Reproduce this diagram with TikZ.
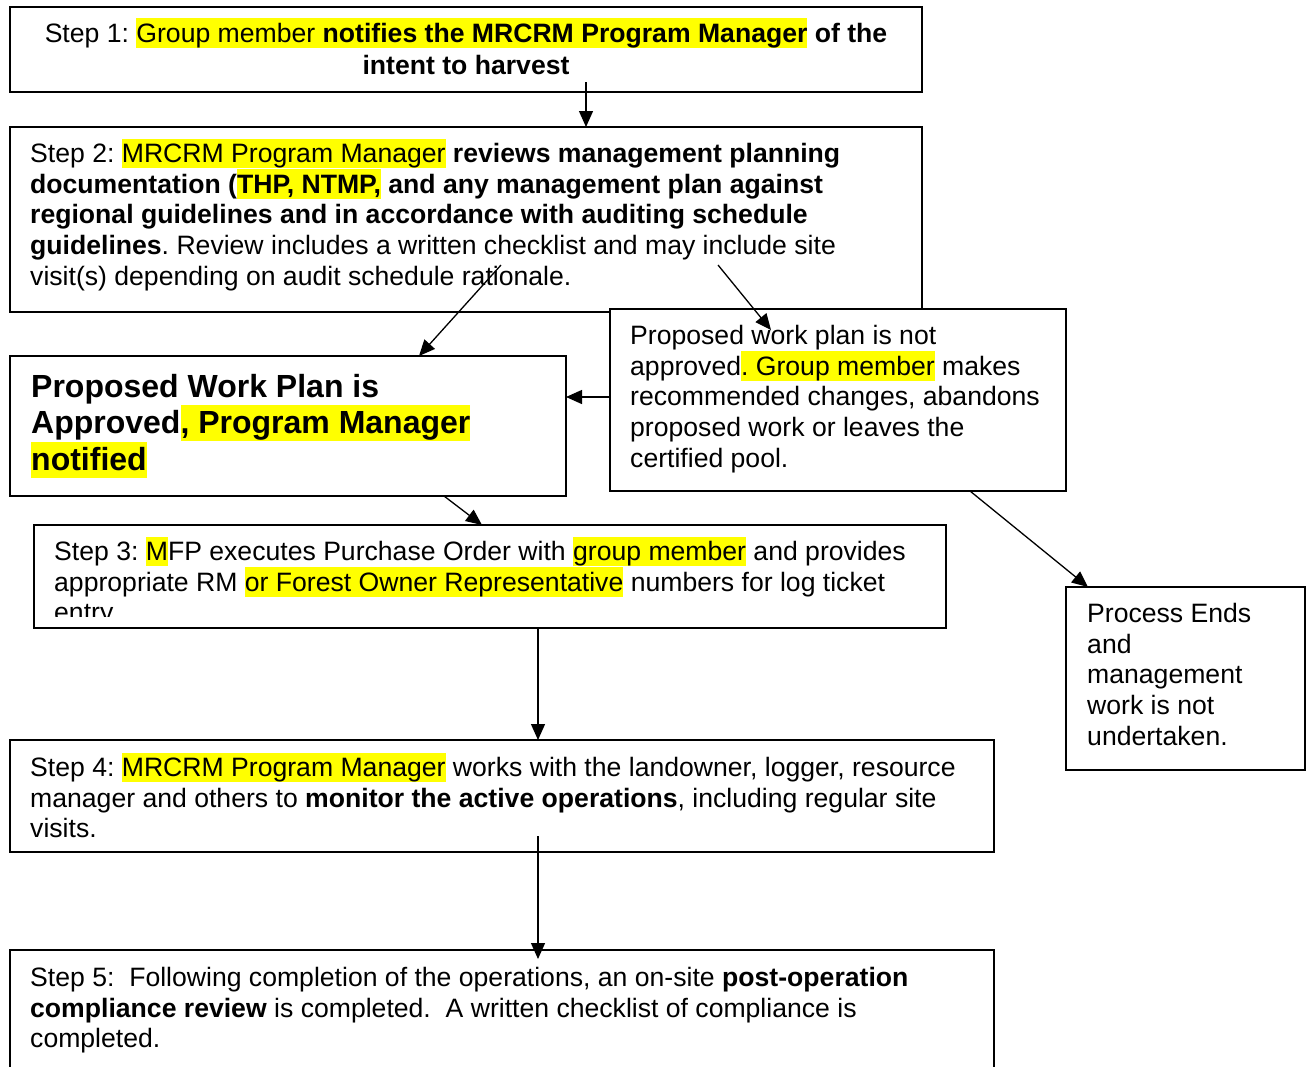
\documentclass[tikz,border=0pt]{standalone}
\usepackage{fontspec}
\setmainfont{Liberation Sans}
\usetikzlibrary{arrows.meta}
\definecolor{hlyellow}{HTML}{FFFF00}
\frenchspacing
% strut with the ascent/descent of the font, used for the highlight bands
\newcommand{\hlstrut}{\rule[-0.212em]{0pt}{1.117em}}
\newcommand{\hlt}[1]{{\setlength{\fboxsep}{0pt}\colorbox{hlyellow}{\hlstrut#1}}}

\tikzset{
  box/.style={draw=black, line width=1.7pt, fill=white, rectangle,
    anchor=north west, inner sep=0pt, outer sep=0pt},
  body/.style={anchor=north west, inner sep=0pt, align=left,
    font=\fontsize{26.6}{30.6}\selectfont},
  bigbody/.style={anchor=north west, inner sep=0pt, align=left,
    font=\fontsize{32}{36.8}\selectfont},
  arr/.style={line width=1.3pt, -{Triangle[length=16pt,width=14pt]}},
}

\begin{document}
\begin{tikzpicture}[x=1pt,y=-1pt]
\clip (0,0) rectangle (1306,1066);

% ---- boxes ----
\node[box, minimum width=912pt, minimum height=85pt]  (s1) at (10,7) {};
\node[box, minimum width=912pt, minimum height=185pt] (s2) at (10,127) {};
\node[box, minimum width=556pt, minimum height=140pt] (ap) at (10,356) {};
\node[box, minimum width=456pt, minimum height=182pt] (na) at (610,309) {};
\node[box, minimum width=912pt, minimum height=103pt] (s3) at (34,525) {};
\node[box, minimum width=239pt, minimum height=183pt] (pe) at (1066,587) {};
\node[box, minimum width=984pt, minimum height=112pt] (s4) at (10,740) {};
\node[box, minimum width=984pt, minimum height=150pt] (s5) at (10,950) {};

% ---- texts ----
\node[body, anchor=north, align=center, font=\fontsize{26.6}{32}\selectfont] (t1) at (466,17.9)
  {\hlstrut Step 1: \hlt{Group member \textbf{notifies the MRCRM Program Manager}} \textbf{of the}\\
   \hlstrut\textbf{intent to harvest}};

\node[body] (t2) at (30,138.4)
  {\hlstrut Step 2: \hlt{MRCRM Program Manager} \textbf{reviews management planning}\\
   \hlstrut\textbf{documentation (\hlt{THP, NTMP,} and any management plan against}\\
   \hlstrut\textbf{regional guidelines and in accordance with auditing schedule}\\
   \hlstrut\textbf{guidelines}. Review includes a written checklist and may include site\\
   \hlstrut visit(s) depending on audit schedule rationale.};

\node[bigbody] (tap) at (31,368)
  {\hlstrut\textbf{Proposed Work Plan is}\\
   \hlstrut\textbf{Approved\hlt{, Program Manager}}\\
   \hlstrut\textbf{\hlt{notified}}};

\node[body] (tna) at (630,320.4)
  {\hlstrut Proposed work plan is not\\
   \hlstrut approved\hlt{. Group member} makes\\
   \hlstrut recommended changes, abandons\\
   \hlstrut proposed work or leaves the\\
   \hlstrut certified pool.};

\begin{scope}
  \clip (34,525) rectangle (946,616);
  \node[body] (t3) at (54,536.4)
    {\hlstrut Step 3: \hlt{M}FP executes Purchase Order with \hlt{group member} and provides\\
     \hlstrut appropriate RM \hlt{or Forest Owner Representative} numbers for log ticket\\
     \hlstrut entry};
\end{scope}

\node[body] (tpe) at (1087,598.4)
  {\hlstrut Process Ends\\
   \hlstrut and\\
   \hlstrut management\\
   \hlstrut work is not\\
   \hlstrut undertaken.};

\node[body] (t4) at (30,752.4)
  {\hlstrut Step 4: \hlt{MRCRM Program Manager} works with the landowner, logger, resource\\
   \hlstrut manager and others to \textbf{monitor the active operations}, including regular site\\
   \hlstrut visits.};

\node[body] (t5) at (30,962.4)
  {\hlstrut Step 5:\ \ Following completion of the operations, an on-site \textbf{post-operation}\\
   \hlstrut\textbf{compliance review} is completed.\ \ A written checklist of compliance is\\
   \hlstrut completed.};

% ---- connectors ----
\coordinate (a1) at (586,82);
\draw[arr] (a1) -- (a1 |- s2.north);

\coordinate (a2) at (501,265);
\draw[arr] (a2) -- ([xshift=409pt]ap.north west);

\coordinate (a3s) at (718,265);
\coordinate (a3e) at (771,330);
\draw[arr] (a3s) -- (a3e);

\coordinate (a4) at (0,397);
\draw[arr] (na.west |- a4) -- (ap.east |- a4);

\draw[arr] ([xshift=434pt]ap.south west) -- ([xshift=448pt]s3.north west);

\draw[arr] ([xshift=360pt]na.south west) -- ([xshift=22pt]pe.north west);

\coordinate (col) at (538,0);
\draw[arr] (s3.south -| col) -- (s4.north -| col);

\coordinate (a8s) at (538,836);
\coordinate (a8e) at (538,959);
\draw[arr] (a8s) -- (a8e);
\end{tikzpicture}
\end{document}
